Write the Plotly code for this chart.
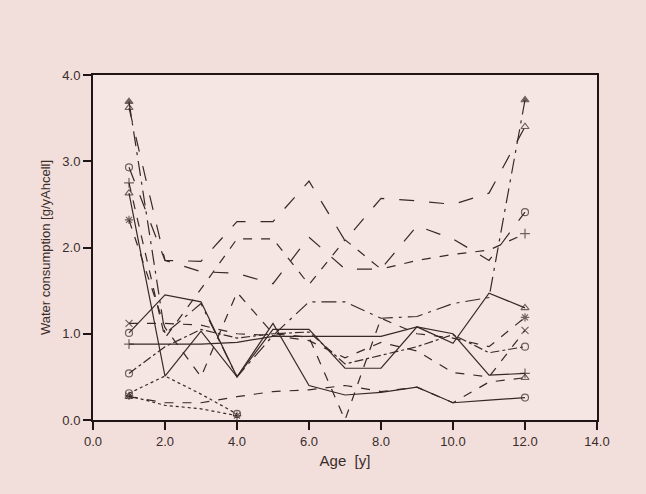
import plotly.graph_objects as go

ages = [1, 2, 3, 4, 5, 6, 7, 8, 9, 10, 11, 12]
short_ages = [1, 2, 3, 4]

s_a = [3.69, 1.00, 1.35, 0.50, 0.98, 1.37, 1.37, 1.18, 1.20, 1.35, 1.42, 3.71]
s_b = [3.62, 1.85, 1.84, 2.30, 2.30, 2.77, 2.08, 2.57, 2.54, 2.50, 2.63, 3.40]
s_c = [2.93, 1.85, 1.72, 1.70, 1.58, 2.12, 1.75, 1.75, 2.25, 2.10, 1.85, 2.41]
s_d = [2.75, 0.95, 1.52, 2.10, 2.10, 1.57, 2.09, 1.75, 1.85, 1.92, 1.97, 2.16]
s_e = [2.63, 0.51, 1.03, 0.50, 1.05, 1.05, 0.60, 0.60, 1.08, 0.89, 1.47, 1.30]
s_f = [2.32, 1.07, 0.50, 1.48, 1.00, 0.96, 0.00, 1.18, 1.00, 0.95, 0.85, 1.19]
s_g = [1.12, 1.12, 1.10, 1.00, 0.98, 0.92, 0.72, 0.90, 0.80, 0.55, 0.50, 1.04]
s_h = [1.01, 1.45, 1.37, 0.50, 1.12, 0.40, 0.29, 0.32, 0.38, 0.20, 0.23, 0.26]
s_i = [0.88, 0.88, 0.88, 0.90, 0.97, 0.97, 0.97, 0.97, 1.08, 1.00, 0.52, 0.54]
s_j = [0.54, 0.85, 1.05, 0.95, 1.00, 1.02, 0.65, 0.75, 0.85, 0.99, 0.78, 0.85]
s_k = [0.27, 0.20, 0.20, 0.27, 0.33, 0.35, 0.40, 0.33, 0.38, 0.20, 0.44, 0.49]
s_l = [0.31, 0.51, 0.30, 0.07]
s_m = [0.28, 0.17, 0.13, 0.05]

series = [
    (ages, s_a, "longdashdot", "triangle-up"),
    (ages, s_b, "longdash", "triangle-up-open"),
    (ages, s_c, "longdash", "circle-open"),
    (ages, s_d, "dash", "cross-thin-open"),
    (ages, s_e, "solid", "triangle-up-open"),
    (ages, s_f, "dash", "asterisk-open"),
    (ages, s_g, "dash", "x-thin-open"),
    (ages, s_h, "solid", "circle-open"),
    (ages, s_i, "solid", "cross-thin-open"),
    (ages, s_j, "dashdot", "circle-open"),
    (ages, s_k, "dash", "triangle-up-open"),
    (short_ages, s_l, "dot", "circle-open"),
    (short_ages, s_m, "dot", "asterisk-open"),
]

ink = "#382826"
fig = go.Figure()
for xs, ys, dash, sym in series:
    n = len(xs)
    sizes = [7] + [0] * (n - 2) + [7]
    fig.add_trace(go.Scatter(
        x=xs, y=ys, mode="lines+markers",
        line=dict(color=ink, width=1.2, dash=dash),
        marker=dict(symbol=sym, size=sizes, color=ink,
                    line=dict(color=ink, width=1.2)),
        showlegend=False, hoverinfo="skip"))

axis_common = dict(
    showgrid=False, zeroline=False, showline=True, mirror=True,
    linecolor="#1f1514", linewidth=2, ticks="outside", ticklen=8,
    tickwidth=1.5, tickcolor="#1f1514",
    tickfont=dict(family="Liberation Sans, Arial, sans-serif", size=13, color="#3a2c2a"),
)

fig.update_layout(
    width=646, height=494,
    margin=dict(l=93, r=49, t=75, b=74),
    paper_bgcolor="#f2dfdb",
    plot_bgcolor="#f5e6e3",
    xaxis=dict(range=[0, 14], dtick=2, tickformat=".1f",
               title=dict(text="Age  [y]", standoff=8,
                          font=dict(family="Liberation Sans, Arial, sans-serif", size=15, color="#3a2c2a")),
               **axis_common),
    yaxis=dict(range=[0, 4], dtick=1, tickformat=".1f",
               title=dict(text="Water consumption [g/yAhcell]", standoff=9,
                          font=dict(family="Liberation Sans, Arial, sans-serif", size=13, color="#3a2c2a")),
               **axis_common),
)

fig.write_html("out.html")
